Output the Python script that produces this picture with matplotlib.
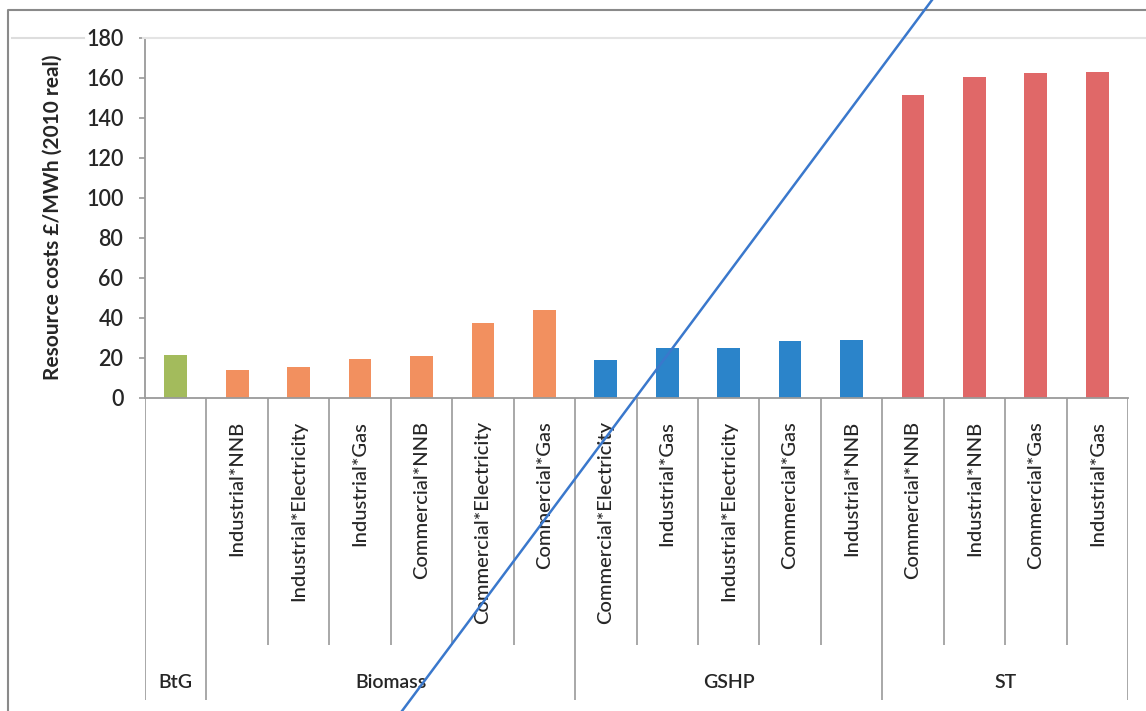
import matplotlib
matplotlib.use("Agg")
import matplotlib.pyplot as plt
from matplotlib.lines import Line2D

plt.rcParams['font.family'] = ['Lato', 'DejaVu Sans']

# resource cost per technology / sector / counterfactual fuel
groups = ["BtG", "Biomass", "GSHP", "ST"]
group_sizes = [1, 6, 5, 4]
group_colors = ["#a3bb5c", "#f2905f", "#2b84ca", "#e06868"]
categories = ["",
              "Industrial*NNB", "Industrial*Electricity", "Industrial*Gas",
              "Commercial*NNB", "Commercial*Electricity", "Commercial*Gas",
              "Commercial*Electricity", "Industrial*Gas", "Industrial*Electricity",
              "Commercial*Gas", "Industrial*NNB",
              "Commercial*NNB", "Industrial*NNB", "Commercial*Gas", "Industrial*Gas"]
costs = [21.5,
         14, 15.5, 19.5, 21, 37.5, 44,
         19, 25, 25, 28.5, 29,
         151.5, 160.5, 162.5, 163]
yticks = list(range(0, 181, 20))

W, H = 1146, 711
def fx(x): return x / W
def fy(y): return 1 - y / H

GRID = "#9a9a9a"
TXT = "#262626"

colors = []
for c, n in zip(group_colors, group_sizes):
    colors += [c] * n

fig = plt.figure(figsize=(W / 100, H / 100), dpi=100)
ax = fig.add_axes([fx(145), fy(398), fx(1128) - fx(145), fy(38) - fy(398)])
xs = list(range(len(costs)))
ax.bar(xs, costs, width=0.37, color=colors, zorder=2)
ax.set_xlim(-0.5, len(costs) - 0.5)
ax.set_ylim(0, 180)
ax.set_yticks(yticks)
ax.set_xticks([])
for s in ["top", "right"]:
    ax.spines[s].set_visible(False)
for s in ["left", "bottom"]:
    ax.spines[s].set_color(GRID)
    ax.spines[s].set_linewidth(1.3)
ax.tick_params(axis="y", length=4.5, color=GRID, width=1.2, pad=11,
               labelsize=15.5, labelcolor=TXT)
for t in ax.get_yticklabels():
    t.set_fontweight("semibold")

fig.text(fx(53), fy(217), "Resource costs £/MWh (2010 real)", rotation=90,
         ha="center", va="center", fontsize=15, fontweight="bold", color=TXT)

# multi-level category axis below the bars
lab = fig.add_axes([fx(145), 0, fx(1128) - fx(145), fy(398)])
lab.set_xlim(ax.get_xlim())
lab.set_ylim(711, 398)
lab.axis("off")

edges = [0]
for n in group_sizes:
    edges.append(edges[-1] + n)
for i in range(len(costs) + 1):
    bottom = 700 if i in edges else 645
    lab.plot([i - 0.5, i - 0.5], [398, bottom], color=GRID, lw=1.2,
             solid_capstyle="butt")

for i, name in enumerate(categories):
    if name:
        lab.text(i, 421, name, rotation=90, ha="center", va="top",
                 fontsize=14.5, fontweight="medium", color=TXT)

for g, a, b in zip(groups, edges[:-1], edges[1:]):
    lab.text((a + b - 1) / 2, 682, g, ha="center", va="center",
             fontsize=14, fontweight="semibold", color=TXT)

# chart frame and faint top rule
fig.add_artist(Line2D([fx(8), fx(8), 1], [0, fy(10), fy(10)],
                      color="#8a8a8a", lw=1.5))
fig.add_artist(Line2D([fx(12), fx(84)], [fy(38), fy(38)], color="#dddddd", lw=1.5))
fig.add_artist(Line2D([fx(143), 1], [fy(38), fy(38)], color="#e4e4e4", lw=1.5))

# pen stroke across the page
fig.add_artist(Line2D([fx(402), fx(932)], [0, 1], color="#3a78cc", lw=1.8))

fig.savefig("out.png", dpi=100)
